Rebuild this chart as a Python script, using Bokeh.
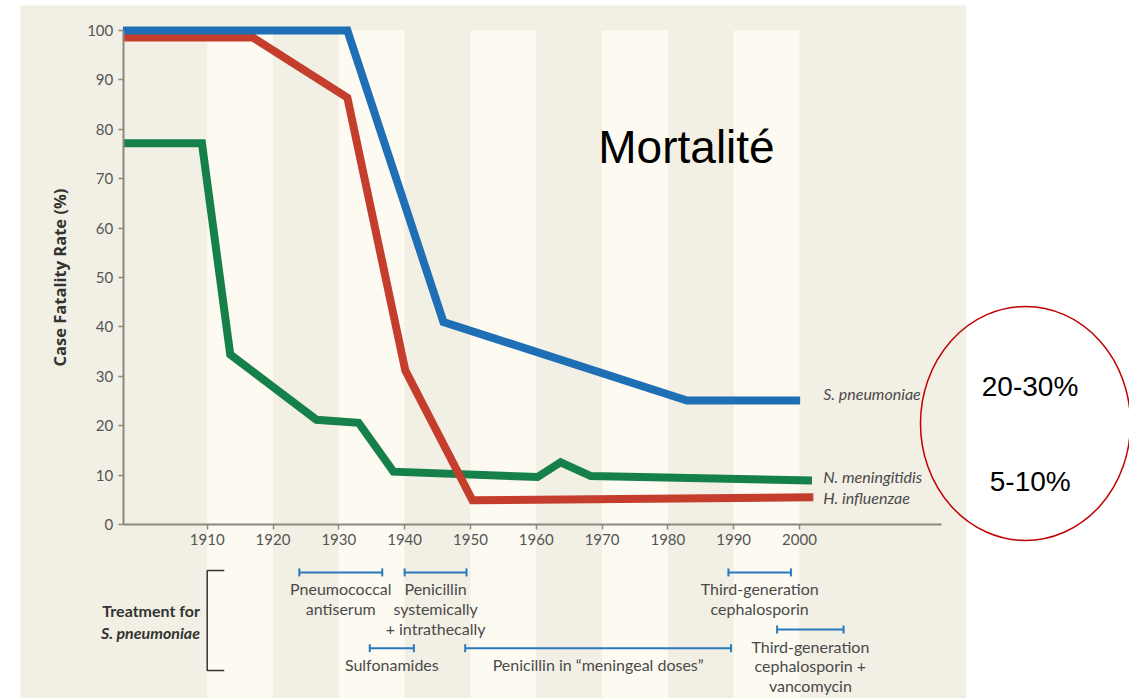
import numpy as np
from bokeh.plotting import figure
from bokeh.models import Range1d, FixedTicker
from bokeh.core.properties import value
from bokeh.embed import file_html
from bokeh.resources import INLINE

# ---------------- data ----------------
x_ticks = [1910, 1920, 1930, 1940, 1950, 1960, 1970, 1980, 1990, 2000]
y_ticks = [0, 10, 20, 30, 40, 50, 60, 70, 80, 90, 100]

spn_year = [1897.2, 1931.3, 1945.9, 1982.9, 2000.1]
spn_rate = [100, 100, 41.0, 25.1, 25.1]

hib_year = [1897.2, 1916.9, 1931.3, 1940.1, 1950.3, 2002.1]
hib_rate = [98.6, 98.6, 86.4, 31.2, 4.9, 5.5]

nme_year = [1897.2, 1909.2, 1913.5, 1926.6, 1933.0, 1938.3, 1960.2, 1963.7, 1968.3, 2001.9]
nme_rate = [77.2, 77.2, 34.4, 21.2, 20.6, 10.7, 9.6, 12.6, 9.8, 8.9]

series_names = ["S. pneumoniae", "N. meningitidis", "H. influenzae"]

band_starts = [1910, 1930, 1950, 1970, 1990]

treat_labels = [
    "Pneumococcal\nantiserum",
    "Penicillin\nsystemically\n+ intrathecally",
    "Sulfonamides",
    "Penicillin in \u201cmeningeal doses\u201d",
    "Third-generation\ncephalosporin",
    "Third-generation\ncephalosporin +\nvancomycin",
]
treat_start = [1924.0, 1940.0, 1934.7, 1949.2, 1989.2, 1996.6]
treat_end = [1936.6, 1949.4, 1941.4, 1989.6, 1998.7, 2006.7]
treat_lane = [0, 0, 2, 2, 0, 1]

title_text = "Mortalit\u00e9"
range_texts = ["20-30%", "5-10%"]

# ---------------- layout / styles ----------------
BEIGE = "#f2efe4"
LIGHT = "#fcfaf1"
BLUE = "#1f6fb6"
RED = "#c43d2d"
GREEN = "#16804a"
BAR = "#2b79bd"
AXIS = "#8a887f"
TXT = "#4a4a4a"
FONT = value("Lato")

p = figure(width=1129, height=698,
           x_range=Range1d(1878.591, 2050.146), y_range=Range1d(-35.223, 106.073),
           output_backend="svg", toolbar_location=None, min_border=0)
p.background_fill_color = "white"
p.border_fill_color = "white"
p.outline_line_color = None
p.xgrid.grid_line_color = None
p.ygrid.grid_line_color = None

# beige panel and lighter decade bands
p.quad(left=[1881.63], right=[2025.38], bottom=[-40], top=[105.06],
       fill_color=BEIGE, line_color=None)
p.quad(left=band_starts, right=[b + 10 for b in band_starts],
       bottom=[-40] * len(band_starts), top=[100] * len(band_starts),
       fill_color=LIGHT, line_color=None)

# series
for xs, ys, col in [(nme_year, nme_rate, GREEN), (hib_year, hib_rate, RED), (spn_year, spn_rate, BLUE)]:
    p.line(xs, ys, line_width=8, line_color=col, line_join="miter", line_cap="butt")

label_x = 2003.6
label_y = [26.5, 9.7, 5.4]
p.text(x=[label_x] * 3, y=label_y, text=series_names, text_font=FONT,
       text_font_style="italic", text_font_size="16px", text_color=TXT,
       text_align="left", text_baseline="middle")

# axes
xax = p.xaxis[0]
xax.fixed_location = 0
xax.bounds = (1897.24, 2021.6)
xax.ticker = FixedTicker(ticks=x_ticks)
yax = p.yaxis[0]
yax.fixed_location = 1897.24
yax.bounds = (0, 100)
yax.ticker = FixedTicker(ticks=y_ticks)
yax.axis_label = "Case Fatality Rate (%)"
yax.axis_label_text_font = "Open Sans"
yax.axis_label_text_font_style = "bold"
yax.axis_label_text_font_size = "16.5px"
yax.axis_label_text_color = "#333333"
yax.axis_label_standoff = 13
for ax in (xax, yax):
    ax.axis_line_color = AXIS
    ax.axis_line_width = 2
    ax.major_tick_line_color = AXIS
    ax.major_tick_line_width = 1.5
    ax.major_tick_out = 5
    ax.major_tick_in = 0
    ax.minor_tick_line_color = None
    ax.major_label_text_font = "Lato"
    ax.major_label_text_font_size = "15px"
    ax.major_label_text_color = "#555555"
    ax.major_label_standoff = 5

# title and ellipse annotation
p.text(x=[1982.83], y=[76.4], text=[title_text], text_font=value("Liberation Sans"),
       text_font_size="46px", text_color="black", text_align="center",
       text_baseline="alphabetic")
p.ellipse(x=[2034.34], y=[20.45], width=[31.91], height=[47.37],
          fill_color=None, line_color="#c00000", line_width=1.5)
p.text(x=[2035.03, 2035.06], y=[27.9, 8.75], text=range_texts,
       text_font=value("Liberation Sans"), text_font_size="28px", text_color="black",
       text_align="center", text_baseline="alphabetic")

# treatments
LANE_Y = {0: -9.7, 1: -21.26, 2: -25.04}
ty = [LANE_Y[l] for l in treat_lane]
p.segment(x0=treat_start, y0=ty, x1=treat_end, y1=ty, line_color=BAR, line_width=2)
p.scatter(x=treat_start + treat_end, y=ty + ty, marker="dash", size=8, angle=np.pi / 2,
          line_color=BAR, line_width=2)
lx, ly, lt = [], [], []
for s, e, yb, lab in zip(treat_start, treat_end, ty, treat_labels):
    for i, line in enumerate(lab.split("\n")):
        lx.append((s + e) / 2)
        ly.append(yb - 3.34 - i * 4.0)
        lt.append(line)
p.text(x=lx, y=ly, text=lt, text_font=FONT, text_font_size="16px", text_color=TXT,
       text_align="center", text_baseline="middle")

# bracket and group label
bx = x_ticks[0]
btop = LANE_Y[0] + 0.4
bbot = LANE_Y[2] - 4.5
p.line([bx + 2.6, bx, bx, bx + 2.6], [btop, btop, bbot, bbot], line_color="#333333",
       line_width=1.5)
p.text(x=[bx - 1.1], y=[-17.4], text=["Treatment for"], text_font=FONT,
       text_font_style="bold", text_font_size="16px", text_color="#333333",
       text_align="right", text_baseline="middle")
p.text(x=[bx - 1.1], y=[-21.8], text=["S. pneumoniae"], text_font=FONT,
       text_font_style="bold italic", text_font_size="16px", text_color="#333333",
       text_align="right", text_baseline="middle")

open("out.html", "w").write(file_html(p, INLINE))
